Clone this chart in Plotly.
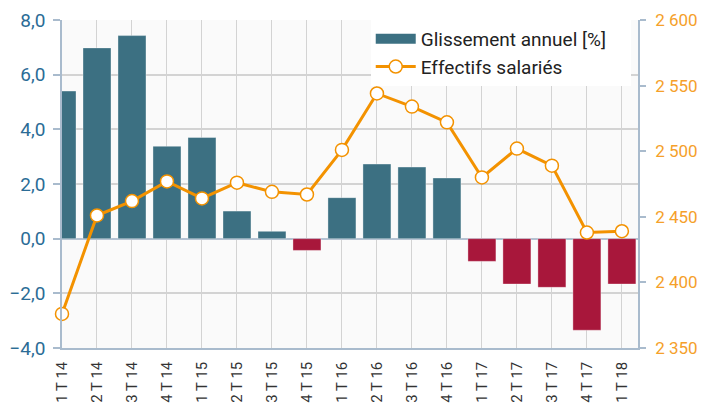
import plotly.graph_objects as go

categories = ["1 T 14", "2 T 14", "3 T 14", "4 T 14", "1 T 15", "2 T 15", "3 T 15", "4 T 15",
              "1 T 16", "2 T 16", "3 T 16", "4 T 16", "1 T 17", "2 T 17", "3 T 17", "4 T 17", "1 T 18"]
glissement = [5.40, 6.98, 7.43, 3.38, 3.70, 1.01, 0.27, -0.43,
              1.50, 2.73, 2.62, 2.22, -0.83, -1.66, -1.78, -3.35, -1.66]
effectifs = [2376, 2451, 2462, 2477, 2464, 2476, 2469, 2467,
             2501, 2544, 2534, 2522, 2480, 2502, 2489, 2438, 2439]

POS = "#3C7082"
NEG = "#A8173B"
ORANGE = "#F39200"
bar_colors = [POS if v >= 0 else NEG for v in glissement]

fig = go.Figure()
fig.add_trace(go.Bar(
    x=categories, y=glissement, name="Glissement annuel [%]",
    marker=dict(color=bar_colors, line=dict(color="rgba(255,255,255,0.35)", width=1)),
    width=0.8, yaxis="y", showlegend=False,
))
# legend proxy for the bars (wide rectangle symbol)
fig.add_trace(go.Scatter(
    x=[categories[0]], y=[None], name="Glissement annuel [%]\u00a0\u00a0\u00a0\u00a0",
    mode="lines", line=dict(color=POS, width=11), yaxis="y", hoverinfo="skip",
))
fig.add_trace(go.Scatter(
    x=categories, y=effectifs, name="Effectifs salariés", yaxis="y2",
    mode="lines+markers", cliponaxis=False,
    line=dict(color=ORANGE, width=3),
    marker=dict(size=13, color="white", line=dict(color=ORANGE, width=1.5)),
))

axis_line = "#A9BBCD"
grid = "#D3D3D3"
font_family = "Roboto, 'Open Sans', sans-serif"

fig.update_layout(
    width=697, height=397,
    margin=dict(l=54, r=67, t=12, b=57, autoexpand=False),
    paper_bgcolor="white", plot_bgcolor="#FAFAFA",
    separators=", ",
    font=dict(family=font_family, size=18, color="#333333"),
    showlegend=True,
    legend=dict(x=0.536, y=1.0, xanchor="left", yanchor="top",
                bgcolor="white", borderwidth=0,
                font=dict(size=19, color="#222222"),
                tracegroupgap=0, itemwidth=40),
    bargap=0.2,
    xaxis=dict(
        type="category", range=[0, 16.46], automargin=False,
        tickangle=-90, tickfont=dict(size=15, color="#333333"),
        showgrid=True, gridcolor=grid, gridwidth=1,
        showline=True, linecolor=axis_line, linewidth=1.5,
        ticks="", ticklabelstandoff=6,
    ),
    yaxis=dict(
        range=[-4, 8], dtick=2, tickformat=".1f", automargin=False,
        tickfont=dict(size=19, color="#2B6C96"),
        showgrid=True, gridcolor=grid, gridwidth=1.5,
        zeroline=True, zerolinecolor="#B4C2D2", zerolinewidth=1.5,
        showline=True, linecolor=axis_line, linewidth=1.5,
        ticks="outside", ticklen=7, tickcolor=axis_line, tickwidth=1.5,
        ticklabelstandoff=4,
    ),
    yaxis2=dict(
        overlaying="y", side="right", automargin=False,
        range=[2350, 2600], dtick=50, tickformat=",.0f",
        tickfont=dict(size=17, color="#F5A02A"),
        showgrid=False, zeroline=False,
        showline=True, linecolor=axis_line, linewidth=1.5,
        ticks="outside", ticklen=6, tickcolor=axis_line, tickwidth=1.5,
        ticklabelstandoff=6,
    ),
)

fig.write_html("out.html")
